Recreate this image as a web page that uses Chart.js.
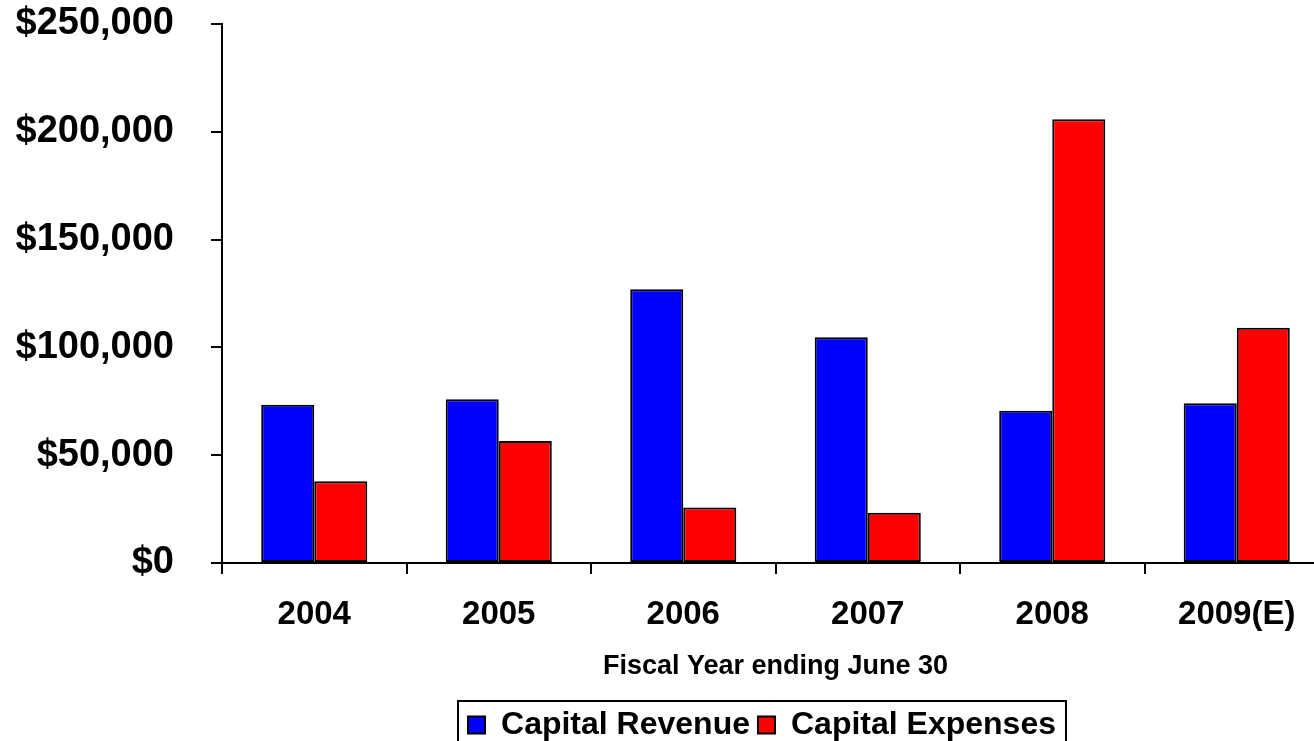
<!DOCTYPE html>
<html>
<head>
<meta charset="utf-8">
<title>Capital Revenue and Expenses</title>
<script src="https://cdn.jsdelivr.net/npm/chart.js@4.4.1/dist/chart.umd.min.js"></script>
<style>
  html, body { margin: 0; padding: 0; background: #fff; overflow: hidden; }
  canvas { display: block; }
</style>
</head>
<body>
<canvas id="chart" width="1345" height="751"></canvas>
<script>
const years = ["2004", "2005", "2006", "2007", "2008", "2009(E)"];
const capitalRevenue = [73400, 75900, 127000, 104700, 70600, 74100];
const capitalExpenses = [37900, 56600, 25800, 23300, 205800, 109100];
const yTickLabels = ["$0", "$50,000", "$100,000", "$150,000", "$200,000", "$250,000"];
const xCaption = "Fiscal Year ending June 30";

const FONT = "'Liberation Sans', Arial, Helvetica, sans-serif";

// slide the legend sideways; its hit boxes get rebuilt from left/right afterwards
const legendShift = {
  id: "legendShift",
  afterLayout(chart, args, opts) {
    const lg = chart.legend;
    if (!lg) return;
    lg.left += opts.dx;
    lg.right += opts.dx;
  }
};

// black frame round the legend items
const legendFrame = {
  id: "legendFrame",
  afterDraw(chart) {
    const boxes = chart.legend.legendHitBoxes;
    if (!boxes.length) return;
    const first = boxes[0], last = boxes[boxes.length - 1];
    const ctx = chart.ctx;
    ctx.save();
    ctx.strokeStyle = "#000";
    ctx.lineWidth = 2;
    ctx.strokeRect(first.left - 10, first.top - 8,
      last.left + last.width - first.left + 20, first.height + 16);
    ctx.restore();
  }
};

Chart.defaults.font.family = FONT;
Chart.defaults.font.weight = "bold";
Chart.defaults.color = "#000";

new Chart(document.getElementById("chart").getContext("2d"), {
  type: "bar",
  data: {
    labels: years,
    datasets: [{
      label: "Capital Revenue",
      data: capitalRevenue,
      backgroundColor: "#0000ff",
      borderColor: "#000",
      borderWidth: 2,
      borderSkipped: false
    }, {
      label: "Capital Expenses",
      data: capitalExpenses,
      backgroundColor: "#ff0000",
      borderColor: "#000",
      borderWidth: 2,
      borderSkipped: false
    }]
  },
  options: {
    responsive: false,
    animation: false,
    devicePixelRatio: 1,
    layout: { padding: { left: 11, right: 16, top: 24, bottom: 0 } },
    datasets: { bar: { barPercentage: 1, categoryPercentage: 0.575 } },
    scales: {
      x: {
        offset: true,
        grid: { offset: true, drawOnChartArea: false, drawTicks: true, tickLength: 11, color: "#000", lineWidth: 2 },
        border: { display: true, color: "#000", width: 2 },
        ticks: { font: { size: 33, weight: "bold" }, padding: 21, autoSkip: false, maxRotation: 0 },
        title: {
          display: true,
          text: xCaption,
          font: { size: 27, weight: "bold" },
          padding: { top: 0, bottom: 18 }
        },
        afterFit(scale) {
          scale.height = 138;
          scale.paddingLeft = 0;
          scale.paddingRight = 0;
        }
      },
      y: {
        min: 0,
        max: 250000,
        grid: { drawOnChartArea: false, drawTicks: true, tickLength: 11, color: "#000", lineWidth: 2 },
        border: { display: true, color: "#000", width: 2 },
        ticks: {
          stepSize: 50000,
          font: { size: 38, weight: "bold" },
          padding: 37,
          callback: (v, i) => yTickLabels[i]
        },
        afterFit(scale) {
          scale.width = 211;
          scale.paddingTop = 0;
          scale.paddingBottom = 0;
        }
      }
    },
    plugins: {
      legend: {
        position: "bottom",
        labels: {
          font: { size: 32, weight: "bold" },
          boxWidth: 17,
          boxHeight: 17,
          padding: 8,
          color: "#000"
        }
      },
      legendShift: { dx: 92 },
      tooltip: { enabled: false }
    }
  },
  plugins: [legendShift, legendFrame]
});
</script>
</body>
</html>
